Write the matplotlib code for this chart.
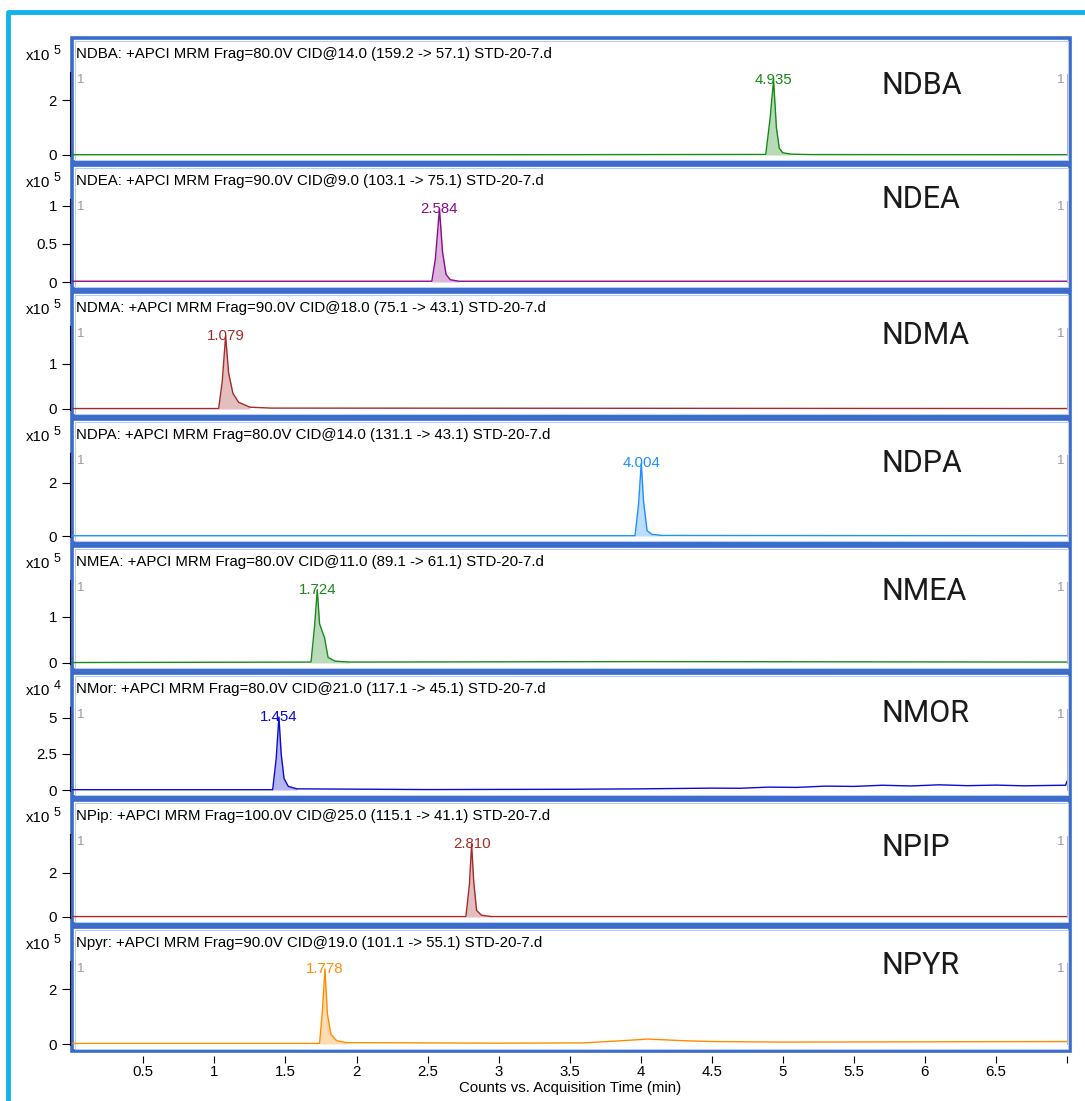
"""MRM chromatograms of eight nitrosamines, stacked panels."""

import matplotlib
matplotlib.use("Agg")
import matplotlib.pyplot as plt
from matplotlib.patches import Rectangle

W, H = 1085, 1101

names = ["NDBA", "NDEA", "NDMA", "NDPA", "NMEA", "NMOR", "NPIP", "NPYR"]
headers = [
    "NDBA: +APCI MRM Frag=80.0V CID@14.0 (159.2 -> 57.1) STD-20-7.d",
    "NDEA: +APCI MRM Frag=90.0V CID@9.0 (103.1 -> 75.1) STD-20-7.d",
    "NDMA: +APCI MRM Frag=90.0V CID@18.0 (75.1 -> 43.1) STD-20-7.d",
    "NDPA: +APCI MRM Frag=80.0V CID@14.0 (131.1 -> 43.1) STD-20-7.d",
    "NMEA: +APCI MRM Frag=80.0V CID@11.0 (89.1 -> 61.1) STD-20-7.d",
    "NMor: +APCI MRM Frag=80.0V CID@21.0 (117.1 -> 45.1) STD-20-7.d",
    "NPip: +APCI MRM Frag=100.0V CID@25.0 (115.1 -> 41.1) STD-20-7.d",
    "Npyr: +APCI MRM Frag=90.0V CID@19.0 (101.1 -> 55.1) STD-20-7.d",
]
exponents = [5, 5, 5, 5, 5, 4, 5, 5]
rt = [4.935, 2.584, 1.079, 4.004, 1.724, 1.454, 2.810, 1.778]
ymax = [3.02, 1.09, 1.84, 3.13, 1.80, 5.76, 3.77, 3.02]
yticks = [[0, 2], [0, 0.5, 1], [0, 1], [0, 2], [0, 1], [0, 2.5, 5], [0, 2], [0, 2]]
colors = ["#138a13", "#8b0a8b", "#a52a2a", "#1e8fff", "#1a8a1a", "#0a0ad0",
          "#a52a2a", "#ff8c00"]

# traces (time in min, counts in x10^n)
t_ndba = [0, 3.0, 4.88, 4.91, 4.935, 4.955, 4.975, 5.0, 5.06, 5.2, 7.0]
y_ndba = [0.01, 0.01, 0.02, 1.3, 2.72, 1.0, 0.25, 0.08, 0.03, 0.015, 0.01]
t_ndea = [0, 2.53, 2.555, 2.584, 2.605, 2.63, 2.66, 2.72, 7.0]
y_ndea = [0.01, 0.01, 0.3, 0.96, 0.4, 0.1, 0.03, 0.01, 0.01]
t_ndma = [0, 1.03, 1.055, 1.079, 1.10, 1.13, 1.17, 1.25, 1.4, 7.0]
y_ndma = [0.01, 0.01, 0.6, 1.62, 0.8, 0.35, 0.15, 0.04, 0.02, 0.01]
t_ndpa = [0, 3.96, 3.985, 4.004, 4.02, 4.045, 4.08, 4.15, 7.0]
y_ndpa = [0.01, 0.01, 1.2, 2.75, 1.3, 0.2, 0.06, 0.02, 0.01]
t_nmea = [0, 1.68, 1.705, 1.724, 1.74, 1.755, 1.775, 1.80, 1.85, 1.95, 4.0, 7.0]
y_nmea = [0.01, 0.02, 0.8, 1.59, 0.85, 0.72, 0.55, 0.12, 0.04, 0.02, 0.03, 0.02]
t_nmor = [0, 1.41, 1.435, 1.454, 1.47, 1.49, 1.52, 1.58, 2.5, 3.5, 4.0, 4.5,
          4.7, 4.9, 5.1, 5.3, 5.5, 5.7, 5.9, 6.1, 6.3, 6.5, 6.7, 6.9, 6.99, 7.0]
y_nmor = [0.02, 0.02, 2.2, 5.07, 2.5, 0.8, 0.25, 0.08, 0.03, 0.05, 0.08, 0.13,
          0.12, 0.2, 0.18, 0.27, 0.25, 0.33, 0.28, 0.36, 0.3, 0.34, 0.29, 0.32,
          0.33, 0.6]
t_npip = [0, 2.77, 2.795, 2.81, 2.825, 2.845, 2.88, 2.95, 7.0]
y_npip = [0.02, 0.02, 1.5, 3.3, 1.6, 0.3, 0.08, 0.02, 0.02]
t_npyr = [0, 1.74, 1.76, 1.778, 1.795, 1.82, 1.86, 1.93, 3.0, 3.6, 3.9, 4.05,
          4.3, 4.5, 5.0, 6.0, 7.0]
y_npyr = [0.02, 0.02, 1.2, 2.73, 1.1, 0.35, 0.12, 0.05, 0.03, 0.04, 0.13, 0.18,
          0.12, 0.09, 0.07, 0.08, 0.09]
traces = [(t_ndba, y_ndba), (t_ndea, y_ndea), (t_ndma, y_ndma), (t_ndpa, y_ndpa),
          (t_nmea, y_nmea), (t_nmor, y_nmor), (t_npip, y_npip), (t_npyr, y_npyr)]
# integrated peak window per channel
windows = [(4.88, 5.06), (2.53, 2.72), (1.03, 1.25), (3.96, 4.15),
           (1.68, 1.95), (1.41, 1.58), (2.77, 2.95), (1.74, 1.93)]
name_dy = [48, 35, 43, 44, 46, 40, 48, 38]

xticks = [0.5, 1, 1.5, 2, 2.5, 3, 3.5, 4, 4.5, 5, 5.5, 6, 6.5, 7]
xticklabels = ["0.5", "1", "1.5", "2", "2.5", "3", "3.5", "4", "4.5", "5",
               "5.5", "6", "6.5", ""]

FS = 10.8
plt.rcParams["font.family"] = ["Liberation Sans", "DejaVu Sans"]
fig = plt.figure(figsize=(W / 100, H / 100), dpi=100)

# overlay in pixel coordinates for frames and labels
ov = fig.add_axes([0, 0, 1, 1])
ov.set_xlim(0, W)
ov.set_ylim(H, 0)
ov.axis("off")
ov.plot([8, 8, W], [H, 12, 12], color="#12b4e6", lw=3.5,
        solid_joinstyle="round", solid_capstyle="butt")

X0, X1 = 72.3, 1067
for i in range(8):
    T = 38 + 127 * i
    ov.add_patch(Rectangle((72, T), 998, 124, fill=False, ec="#3a6bcb", lw=2.6))
    ov.add_patch(Rectangle((74.5, T + 2.5), 993, 119, fill=False, ec="#b9cdf0", lw=0.8))
    ov.text(76, T + 16, headers[i], fontsize=FS, va="center", ha="left")
    ov.text(26, T + 18, "x10", fontsize=FS, va="center", ha="left")
    ov.text(54, T + 13, str(exponents[i]), fontsize=9, va="center", ha="left")
    ov.text(882, T + name_dy[i], names[i], fontsize=22, va="center", ha="left",
            family=["Roboto", "DejaVu Sans"], fontweight="normal", color="#1a1a1a")
    ov.text(77, T + 42, "1", fontsize=9.5, color="#999999", va="center")
    ov.text(1057, T + 42, "1", fontsize=9.5, color="#999999", va="center")

    ax = fig.add_axes([X0 / W, 1 - (T + 121) / H, (X1 - X0) / W, 87 / H])
    ax.patch.set_alpha(0)
    t, y = traces[i]
    c = colors[i]
    ax.plot(t, y, color=c, lw=1.0)
    a, b = windows[i]
    ax.fill_between(t, y, 0, where=[a <= v <= b for v in t], color=c,
                    alpha=0.3, lw=0, interpolate=False)
    ax.text(rt[i], max(y), f"{rt[i]:.3f}", color=c, fontsize=FS,
            ha="center", va="center")
    ax.set_xlim(0, 7.0)
    ax.set_ylim(-4 / 83 * ymax[i], ymax[i])
    ax.set_yticks(yticks[i])
    ax.set_yticklabels([f"{v:g}" for v in yticks[i]])
    ax.spines["top"].set_visible(False)
    ax.spines["left"].set_position(("outward", 2))
    ax.spines["left"].set_bounds(-4 / 83 * ymax[i] * 0.3, ymax[i])
    ax.spines["right"].set_color("#b5b5b5")
    ax.spines["right"].set_bounds(0, ymax[i] * 0.98)
    ax.tick_params(axis="y", length=6, width=0.8, labelsize=FS, pad=3)
    if i < 7:
        ax.spines["bottom"].set_visible(False)
        ax.set_xticks([])
    else:
        ax.spines["bottom"].set_position(("outward", 6))
        ax.spines["bottom"].set_visible(False)
        ax.set_xticks(xticks)
        ax.set_xticklabels(xticklabels)
        ax.tick_params(axis="x", length=5, width=0.8, labelsize=FS, pad=1.5)
        ax.set_xlabel("Counts vs. Acquisition Time (min)", fontsize=FS, labelpad=1)

fig.savefig("out.png", dpi=100)
